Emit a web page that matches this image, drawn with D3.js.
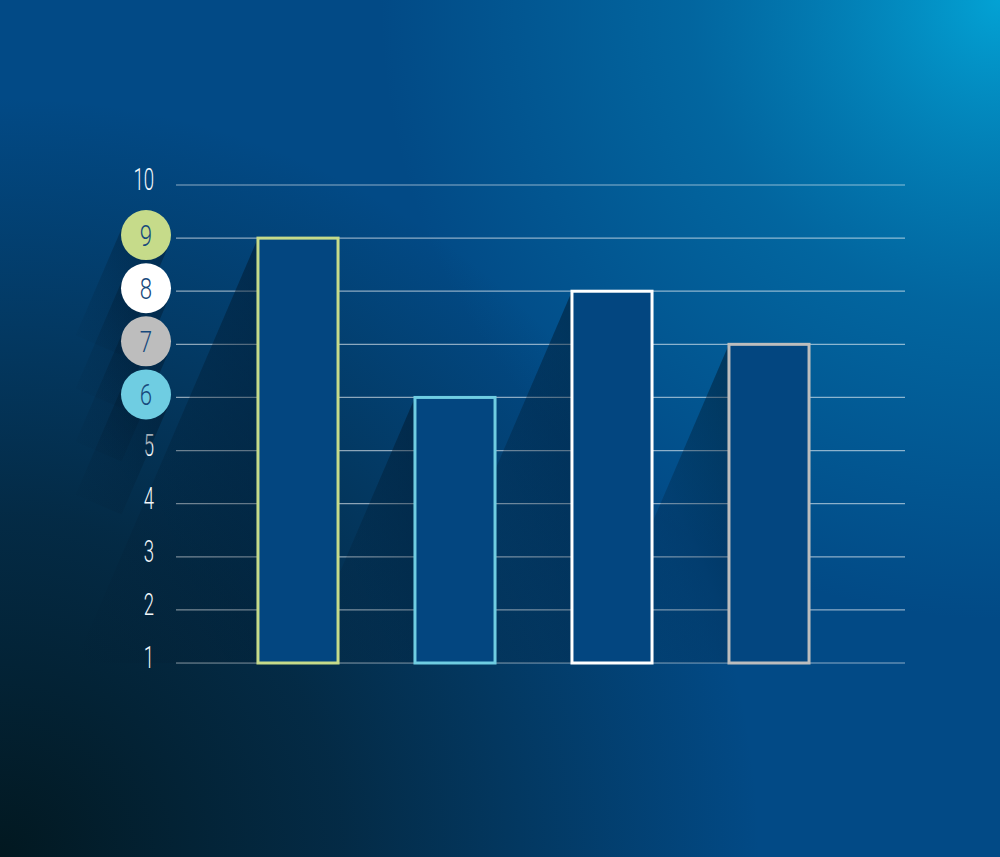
<!DOCTYPE html>
<html>
<head>
<meta charset="utf-8">
<script src="https://cdn.jsdelivr.net/npm/d3@7"></script>
<style>
  html, body { margin: 0; padding: 0; background: #02406f; }
  svg { display: block; }
  .tick-label { font-family: Roboto, "Open Sans", sans-serif; font-weight: 300; fill: #f2f7fb; }
  .dot-label { font-family: Roboto, "Open Sans", sans-serif; font-weight: 300; fill: #17497c; }
</style>
</head>
<body>
<div id="main"></div>
<script>
var width = 1000,
    height = 857;

// chart data
var categories = ["A", "B", "C", "D"];
var values = [9, 6, 8, 7];
var barColors = ["#c6db8a", "#6fcde2", "#ffffff", "#bdbdbd"];
var tickValues = [1, 2, 3, 4, 5, 6, 7, 8, 9, 10];

var svg = d3.select("#main").append("svg")
    .attr("width", width)
    .attr("height", height);

var defs = svg.append("defs");

// background: base blue, dark corner bottom-left, bright corner top-right
var dark = defs.append("radialGradient").attr("id", "darkCorner")
    .attr("gradientUnits", "userSpaceOnUse")
    .attr("cx", 0).attr("cy", 857).attr("r", 760);
dark.append("stop").attr("offset", 0).attr("stop-color", "#021820").attr("stop-opacity", 1);
dark.append("stop").attr("offset", 0.45).attr("stop-color", "#04253a").attr("stop-opacity", 0.85);
dark.append("stop").attr("offset", 1).attr("stop-color", "#04253a").attr("stop-opacity", 0);

var bright = defs.append("radialGradient").attr("id", "brightCorner")
    .attr("gradientUnits", "userSpaceOnUse")
    .attr("cx", 1000).attr("cy", 0).attr("r", 620);
bright.append("stop").attr("offset", 0).attr("stop-color", "#03a2d4").attr("stop-opacity", 1);
bright.append("stop").attr("offset", 0.5).attr("stop-color", "#0278b0").attr("stop-opacity", 0.6);
bright.append("stop").attr("offset", 1).attr("stop-color", "#0278b0").attr("stop-opacity", 0);

var shade = defs.append("linearGradient").attr("id", "shadow")
    .attr("x1", 1).attr("y1", 0).attr("x2", 0).attr("y2", 1);
shade.append("stop").attr("offset", 0).attr("stop-color", "#001426").attr("stop-opacity", 0.5);
shade.append("stop").attr("offset", 0.55).attr("stop-color", "#001426").attr("stop-opacity", 0.18);
shade.append("stop").attr("offset", 1).attr("stop-color", "#001426").attr("stop-opacity", 0);

svg.append("rect").attr("width", width).attr("height", height).attr("fill", "#024a86");
svg.append("rect").attr("width", width).attr("height", height).attr("fill", "url(#brightCorner)");
svg.append("rect").attr("width", width).attr("height", height).attr("fill", "url(#darkCorner)");

var y = d3.scaleLinear()
    .domain([1, 10])
    .range([663, 185]);

var x = d3.scaleBand()
    .domain(categories)
    .range([219.5, 847.5])
    .paddingInner(0.49)
    .paddingOuter(0.245);

var slope = 0.43; // horizontal drift of long shadows per px of drop

// gridlines
svg.append("g").selectAll("line")
    .data(tickValues)
    .enter().append("line")
    .attr("x1", 176)
    .attr("x2", 905)
    .attr("y1", function (d) { return y(d); })
    .attr("y2", function (d) { return y(d); })
    .attr("stroke", "#ffffff")
    .attr("stroke-opacity", 0.55)
    .attr("stroke-width", 1.2);

// long shadows of bars
svg.append("g").selectAll("polygon")
    .data(values)
    .enter().append("polygon")
    .attr("points", function (d, i) {
        var x0 = x(categories[i]), yt = y(d), yb = y(1);
        return [[x0, yt], [x0 - slope * (yb - yt), yb], [x0, yb]].map(function (p) { return p.join(","); }).join(" ");
    })
    .attr("fill", "url(#shadow)");

// bars
svg.append("g").selectAll("rect")
    .data(values)
    .enter().append("rect")
    .attr("x", function (d, i) { return x(categories[i]); })
    .attr("y", function (d) { return y(d); })
    .attr("width", x.bandwidth())
    .attr("height", function (d) { return y(1) - y(d); })
    .attr("fill", "#034680")
    .attr("stroke", function (d, i) { return barColors[i]; })
    .attr("stroke-width", 3);

// axis labels (those covered by value dots are skipped)
var labelX = 154;
svg.append("g").selectAll("text")
    .data(tickValues.filter(function (t) { return values.indexOf(t) < 0; }))
    .enter().append("text")
    .attr("class", "tick-label")
    .attr("transform", function (d) { return "translate(" + labelX + "," + (y(d) + 5) + ") scale(0.58,1)"; })
    .attr("text-anchor", "end")
    .attr("font-size", 32)
    .text(function (d) { return d; });

// value dots with their shadows
var dotX = 146, r = 25, len = 120;
var dots = values.map(function (v, i) { return { v: v, c: barColors[i] }; })
    .sort(function (a, b) { return b.v - a.v; });

var dn = Math.sqrt(1 + slope * slope);
var dx = -slope / dn, dy = 1 / dn, nx = 1 / dn, ny = slope / dn;

svg.append("g").selectAll("polygon")
    .data(dots)
    .enter().append("polygon")
    .attr("points", function (d) {
        var cy = y(d.v) - 3;
        var pts = [
            [dotX + r * nx, cy + r * ny],
            [dotX + r * nx + len * dx, cy + r * ny + len * dy],
            [dotX - r * nx + len * dx, cy - r * ny + len * dy],
            [dotX - r * nx, cy - r * ny]
        ];
        return pts.map(function (p) { return p.join(","); }).join(" ");
    })
    .attr("fill", "url(#shadow)");

svg.append("g").selectAll("circle")
    .data(dots)
    .enter().append("circle")
    .attr("cx", dotX)
    .attr("cy", function (d) { return y(d.v) - 3; })
    .attr("r", r)
    .attr("fill", function (d) { return d.c; });

svg.append("g").selectAll("text")
    .data(dots)
    .enter().append("text")
    .attr("class", "dot-label")
    .attr("transform", function (d) { return "translate(" + dotX + "," + (y(d.v) + 8) + ") scale(0.74,1)"; })
    .attr("text-anchor", "middle")
    .attr("font-size", 30)
    .text(function (d) { return d.v; });
</script>
</body>
</html>
